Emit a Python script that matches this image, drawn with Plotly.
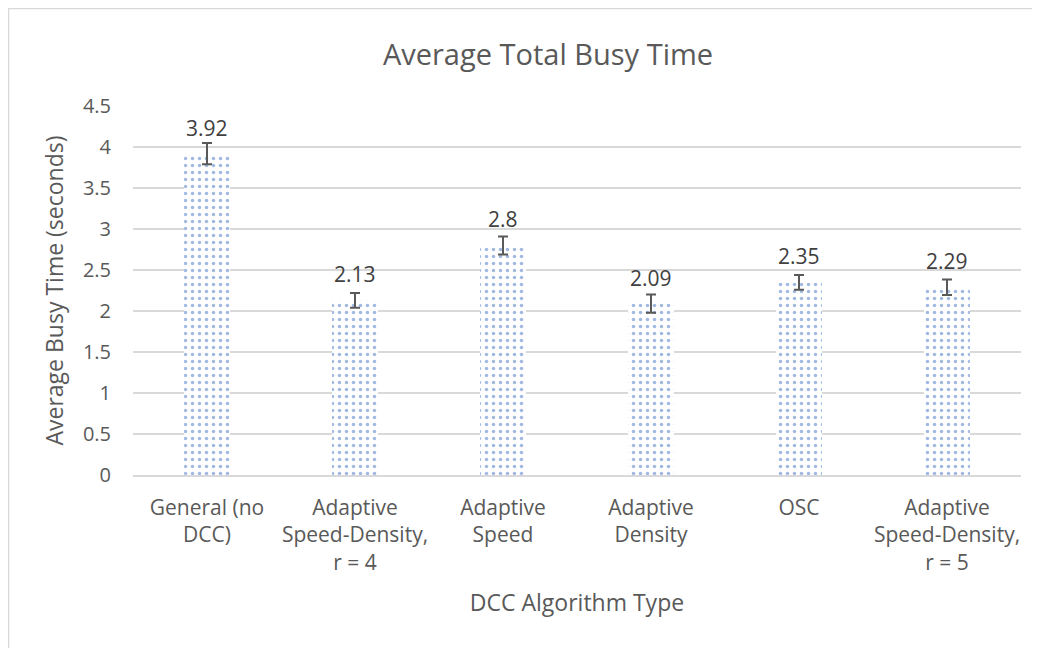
import plotly.graph_objects as go

categories = ["General (no<br>DCC)", "Adaptive<br>Speed-Density,<br>r = 4", "Adaptive<br>Speed",
              "Adaptive<br>Density", "OSC", "Adaptive<br>Speed-Density,<br>r = 5"]
values = [3.92, 2.13, 2.8, 2.09, 2.35, 2.29]
errors = [0.13, 0.09, 0.11, 0.11, 0.09, 0.095]
labels = ["3.92", "2.13", "2.8", "2.09", "2.35", "2.29"]
y_ticks = [0, 0.5, 1, 1.5, 2, 2.5, 3, 3.5, 4, 4.5]
y_ticklabels = ["0", "0.5", "1", "1.5", "2", "2.5", "3", "3.5", "4", "4.5"]

FONT = "Open Sans"
GREY = "#595959"
W, H = 1040, 648
L, R, T, B = 125, 27, 98, 181

fig = go.Figure()
fig.add_trace(go.Bar(
    x=categories, y=values,
    marker=dict(color="white", line=dict(width=0),
                pattern=dict(shape=".", fgcolor="#4472C4", bgcolor="white",
                             size=7, solidity=0.2, fillmode="overlay")),
    error_y=dict(type="data", array=errors, visible=True, color=GREY,
                 thickness=2, width=5),
    hoverinfo="skip",
))

for c, v, t in zip(categories, values, labels):
    fig.add_annotation(x=c, y=v, text=t, showarrow=False, yanchor="middle",
                       yshift=26, font=dict(family=FONT, size=21, color="#404040"))

pw = W - L - R
ph = H - T - B
# outer chart border (left/top edges visible, right/bottom fall outside the view)
fig.add_shape(type="rect", xref="paper", yref="paper",
              x0=(0.5 - L) / pw, x1=(W - 0.5 - L) / pw,
              y0=-(B - 0.5) / ph, y1=(ph + T - 0.5) / ph,
              line=dict(color="#D9D9D9", width=1.5), fillcolor="rgba(0,0,0,0)", layer="below")

fig.update_layout(
    width=W, height=H,
    margin=dict(l=L, r=R, t=T, b=B, pad=0),
    paper_bgcolor="white", plot_bgcolor="white",
    bargap=0.69,
    showlegend=False,
    title=dict(text="Average Total Busy Time", x=540 / W, xanchor="center",
               y=1 - 47 / H, yanchor="middle",
               font=dict(family=FONT, size=29, color=GREY)),
    font=dict(family=FONT, size=20, color=GREY),
    xaxis=dict(showgrid=False, showline=True, linecolor="#D9D9D9", linewidth=1.5,
               ticks="", tickfont=dict(family=FONT, size=21, color=GREY),
               ticklabelstandoff=13,
               title=dict(text="DCC Algorithm Type", standoff=20,
                          font=dict(family=FONT, size=23, color=GREY))),
    yaxis=dict(range=[0, 4.5], tickvals=y_ticks, ticktext=y_ticklabels,
               showgrid=True, gridcolor="#D9D9D9", gridwidth=1.5,
               zeroline=False, showline=False, ticks="",
               tickfont=dict(family=FONT, size=20, color=GREY),
               ticklabelstandoff=21,
               title=dict(text="Average Busy Time (seconds)", standoff=12,
                          font=dict(family=FONT, size=23, color=GREY))),
)

fig.write_html("out.html")
